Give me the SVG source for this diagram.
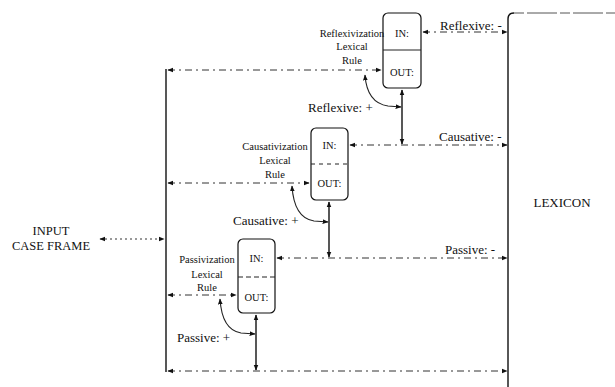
<svg xmlns="http://www.w3.org/2000/svg" width="615" height="387" viewBox="0 0 615 387">
  <style>
    text { font-family: "Liberation Serif", "Times New Roman", serif; fill: #111; }
    .big { font-size: 13px; }
    .inp { font-size: 12.5px; }
    .small { font-size: 10.5px; }
    .mid { text-anchor: middle; }
    .box { fill: none; stroke: #111; stroke-width: 1.2; }
    .div { stroke: #222; stroke-width: 1; }
    .dash { fill: none; stroke: #333; stroke-width: 1; stroke-dasharray: 7 4 2 4; }
    .dot { fill: none; stroke: #333; stroke-width: 1; stroke-dasharray: 2 3; }
    .solid { fill: none; stroke: #111; stroke-width: 1.4; }
    .curve { fill: none; stroke: #222; stroke-width: 1.1; }
  </style>
  <defs>
    <marker id="ah" viewBox="0 0 10 10" refX="9" refY="5" markerWidth="6" markerHeight="6" markerUnits="userSpaceOnUse" orient="auto-start-reverse">
      <path d="M0,1 L10,5 L0,9 Z" fill="#111"/>
    </marker>
  </defs>

  <!-- lexicon store -->
  <g id="lexicon">
    <path d="M508,387 L508,19 Q508,13 514,13" class="solid"/>
    <path d="M514,13 L615,13" fill="none" stroke="#555" stroke-width="1" stroke-dasharray="10 3 30 3"/>
    <text x="562" y="207" class="big mid">LEXICON</text>
  </g>

  <!-- input -->
  <g id="input">
    <text x="51" y="235" class="inp mid">INPUT</text>
    <text x="51" y="250" class="inp mid">CASE FRAME</text>
  </g>

  <!-- reflexivization rule -->
  <g id="reflexivization">
    <rect x="383" y="13" width="38" height="75" rx="5" class="box"/>
    <line x1="383" y1="50" x2="421" y2="50" class="div"/>
    <text x="402" y="37" class="small mid">IN:</text>
    <text x="402" y="76" class="small mid">OUT:</text>
    <text x="352" y="37" class="small mid">Reflexivization</text>
    <text x="352" y="50" class="small mid">Lexical</text>
    <text x="352" y="64" class="small mid">Rule</text>
  </g>

  <!-- causativization rule -->
  <g id="causativization">
    <rect x="311" y="128" width="37" height="72" rx="5" class="box"/>
    <line x1="311" y1="164" x2="348" y2="164" class="div" stroke-dasharray="4 4"/>
    <text x="329.5" y="149" class="small mid">IN:</text>
    <text x="329.5" y="187" class="small mid">OUT:</text>
    <text x="275" y="150" class="small mid">Causativization</text>
    <text x="275" y="164" class="small mid">Lexical</text>
    <text x="275" y="178" class="small mid">Rule</text>
  </g>

  <!-- passivization rule -->
  <g id="passivization">
    <rect x="238" y="239" width="37" height="74" rx="5" class="box"/>
    <line x1="238" y1="277" x2="275" y2="277" class="div" stroke-dasharray="5 3"/>
    <text x="256.5" y="262" class="small mid">IN:</text>
    <text x="256.5" y="301" class="small mid">OUT:</text>
    <text x="207" y="263" class="small mid">Passivization</text>
    <text x="207" y="278" class="small mid">Lexical</text>
    <text x="207" y="291" class="small mid">Rule</text>
  </g>

  <!-- connectors -->
  <g id="connectors" marker-start="url(#ah)" marker-end="url(#ah)">
    <!-- lexicon lookups into the IN slots -->
    <line x1="423" y1="32" x2="507" y2="32" class="dash"/>
    <line x1="350" y1="145" x2="507" y2="145" class="dash"/>
    <line x1="277" y1="258" x2="507" y2="258" class="dash"/>
    <!-- bus links to the OUT slots -->
    <line x1="168" y1="70" x2="381" y2="70" class="dash"/>
    <line x1="168" y1="183" x2="309" y2="183" class="dash"/>
    <line x1="168" y1="295" x2="236" y2="295" class="dash"/>
    <line x1="168" y1="371" x2="507" y2="371" class="dash"/>
    <!-- input case frame -->
    <line x1="100" y1="239" x2="164" y2="239" class="dot"/>
    <!-- rule outputs feeding the next stage -->
    <line x1="402" y1="90" x2="402" y2="144" class="solid"/>
    <line x1="329" y1="202" x2="329" y2="257" class="solid"/>
    <line x1="256" y1="315" x2="256" y2="370" class="solid"/>
    <!-- feature conditions -->
    <path d="M365,75 Q367,103 388,106 L401,107" class="curve"/>
    <path d="M292,186 Q294,218 314,221 L328,222" class="curve"/>
    <path d="M220,299 Q222,330 241,333 L255,334" class="curve"/>
  </g>
  <!-- left bus -->
  <g id="bus">
    <line x1="166" y1="69" x2="166" y2="372" class="solid"/>
  </g>

  <!-- edge labels -->
  <g id="labels">
    <text x="440" y="30" class="big">Reflexive: -</text>
    <text x="308" y="112" class="big">Reflexive: +</text>
    <text x="439" y="141" class="big">Causative: -</text>
    <text x="233" y="225" class="big">Causative: +</text>
    <text x="445" y="254" class="big">Passive: -</text>
    <text x="177" y="342" class="big">Passive: +</text>
  </g>
</svg>
